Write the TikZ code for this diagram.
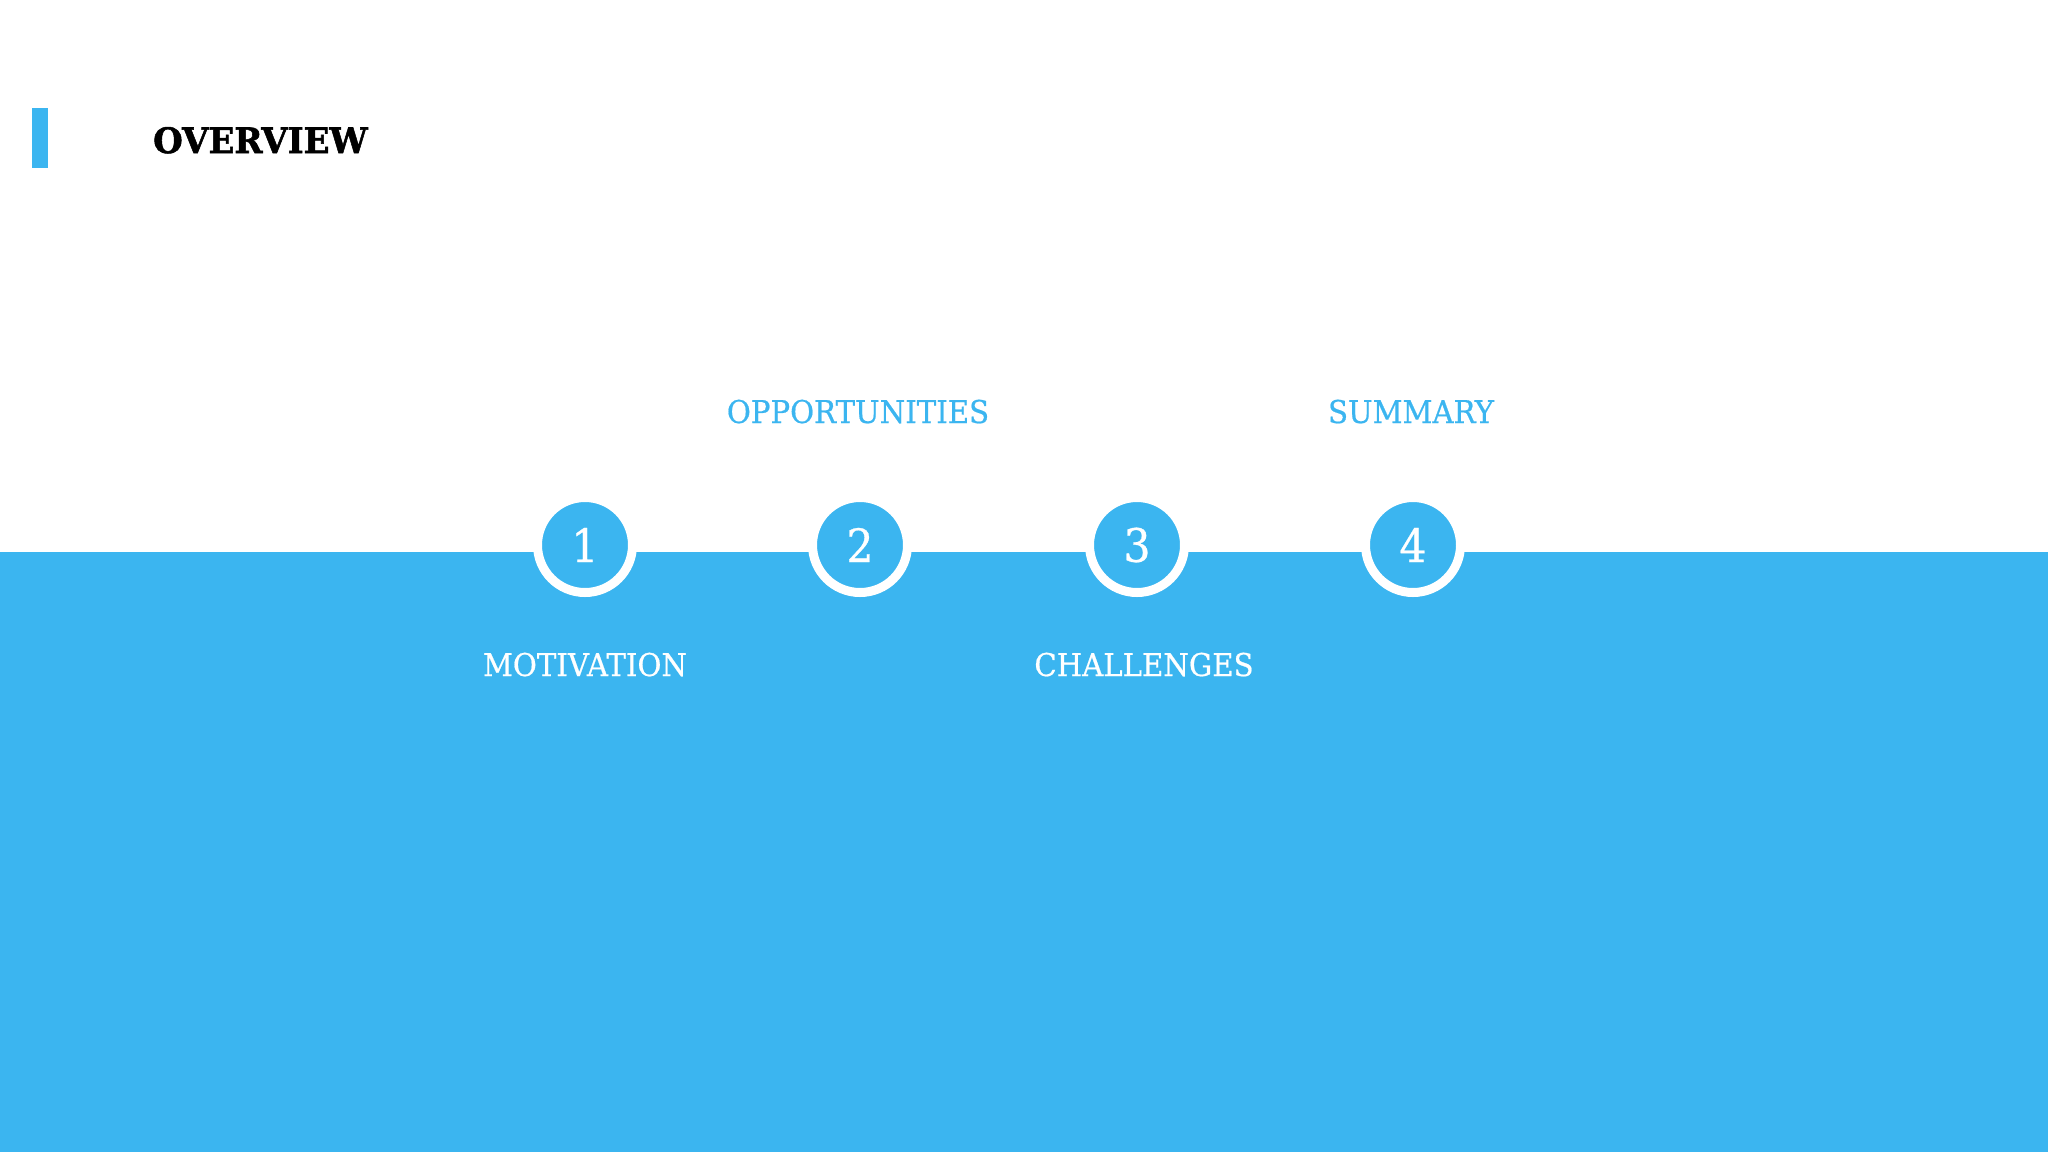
\documentclass[tikz,border=0pt]{standalone}
\usepackage{fontspec}
\setmainfont{DejaVu Serif}
\newfontfamily\slabfont[FakeStretch=0.93,FakeBold=0.6]{DejaVu Serif}
\newfontfamily\slabheavy[FakeStretch=0.97,FakeBold=1.5]{DejaVu Serif Bold}
\usetikzlibrary{positioning}
\definecolor{skyblue}{RGB}{59,181,240}

\begin{document}
\begin{tikzpicture}[x=1pt,y=-1pt,
  numdot/.style={circle,fill=skyblue,draw=white,line width=9pt,minimum size=95pt,inner sep=0pt,text=white,font=\slabfont\fontsize{46}{46}\selectfont},
  toplabel/.style={anchor=base,inner sep=0pt,text=skyblue,font=\slabfont\fontsize{31.4}{32}\selectfont},
  botlabel/.style={anchor=base,inner sep=0pt,text=white,font=\slabfont\fontsize{31.4}{32}\selectfont}]
\useasboundingbox (0,0) rectangle (2048,1152);
% lower band
\fill[skyblue] (0,552) rectangle (2048,1152);
% title + accent bar
\fill[skyblue] (32,108) rectangle (48,168);
\node[anchor=base west,inner sep=0pt,font=\slabheavy\fontsize{35}{36}\selectfont] (title) at (153,153) {OVERVIEW};
% numbered steps
\node[numdot] (s1) at (585,545) {1};
\node[numdot] (s2) at (860,545) {2};
\node[numdot] (s3) at (1137,545) {3};
\node[numdot] (s4) at (1413,545) {4};
% labels above the band
\node[toplabel] (opp) at (858,423) {OPPORTUNITIES};
\node[toplabel] (sum) at (1411,423) {SUMMARY};
% labels below the band
\node[botlabel] (mot) at (585,676) {MOTIVATION};
\node[botlabel] (cha) at (1144,676) {CHALLENGES};
\end{tikzpicture}
\end{document}
